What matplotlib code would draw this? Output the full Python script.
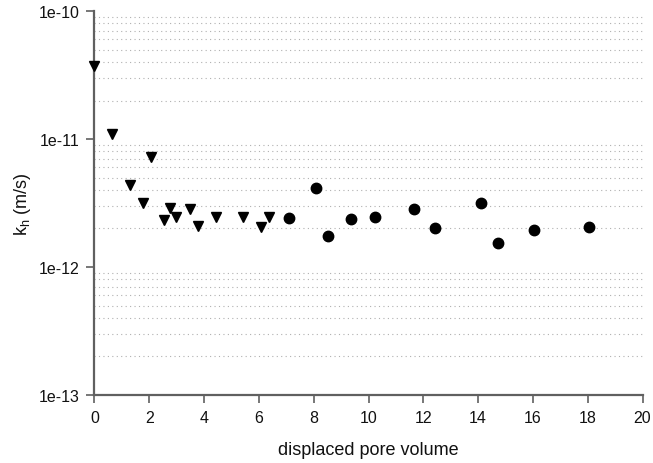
import matplotlib
matplotlib.use("Agg")
import matplotlib.pyplot as plt
from matplotlib.ticker import LogLocator, FixedLocator, NullFormatter

plt.rcParams['font.family'] = ['Liberation Sans', 'DejaVu Sans']
plt.rcParams['mathtext.fontset'] = 'custom'
plt.rcParams['mathtext.rm'] = 'Liberation Sans'
plt.rcParams['mathtext.it'] = 'Liberation Sans:italic'

# triangle series
tri_x = [0.0, 0.65, 1.30, 1.77, 2.05, 2.52, 2.76, 2.97, 3.49, 3.79, 4.43, 5.43, 6.06, 6.38]
tri_y = [3.72e-11, 1.10e-11, 4.40e-12, 3.14e-12, 7.22e-12, 2.32e-12, 2.87e-12, 2.44e-12,
         2.83e-12, 2.10e-12, 2.48e-12, 2.48e-12, 2.07e-12, 2.44e-12]
# circle series
circ_x = [7.09, 8.08, 8.51, 9.35, 10.24, 11.67, 12.43, 14.10, 14.73, 16.05, 18.06]
circ_y = [2.42e-12, 4.12e-12, 1.75e-12, 2.37e-12, 2.44e-12, 2.82e-12, 2.00e-12, 3.18e-12,
          1.55e-12, 1.96e-12, 2.04e-12]

x_ticks = [0, 2, 4, 6, 8, 10, 12, 14, 16, 18, 20]
y_ticks = [1e-13, 1e-12, 1e-11, 1e-10]
y_tick_labels = ["1e-13", "1e-12", "1e-11", "1e-10"]

fig = plt.figure(figsize=(6.53, 4.64), dpi=100)
ax = fig.add_axes([0.1447, 0.1466, 0.984 - 0.1447, 0.974 - 0.1466])

ax.set_yscale('log')
ax.set_xlim(0, 20)
ax.set_ylim(1e-13, 1e-10)

ax.yaxis.set_minor_locator(LogLocator(base=10, subs=range(2, 10)))
ax.yaxis.set_minor_formatter(NullFormatter())
ax.grid(True, which='minor', axis='y', linestyle=(0, (1, 3)), color='#b0b0b0', linewidth=0.8)
ax.grid(False, which='major')
ax.tick_params(axis='y', which='minor', length=0)

ax.plot(tri_x, tri_y, linestyle='none', marker='v', color='black', markersize=7.5, clip_on=False, zorder=5)
ax.plot(circ_x, circ_y, linestyle='none', marker='o', color='black', markersize=7.5, clip_on=False, zorder=5)

ax.set_xticks(x_ticks)
ax.set_xticklabels([str(v) for v in x_ticks])
ax.yaxis.set_major_locator(FixedLocator(y_ticks))
ax.set_yticklabels(y_tick_labels)

for s in ['top', 'right']:
    ax.spines[s].set_visible(False)
for s in ['left', 'bottom']:
    ax.spines[s].set_color('#606060')
    ax.spines[s].set_linewidth(1.6)

ax.tick_params(axis='both', which='major', direction='out', length=6, width=1.2,
               color='#606060', labelsize=11.5, labelcolor='#111111', pad=5)

ax.set_xlabel('displaced pore volume', fontsize=13, color='#111111', labelpad=11)
ax.set_ylabel(r'k$_\mathrm{h}$ (m/s)', fontsize=13, color='#111111', labelpad=4)

fig.savefig('out.png', dpi=100)
